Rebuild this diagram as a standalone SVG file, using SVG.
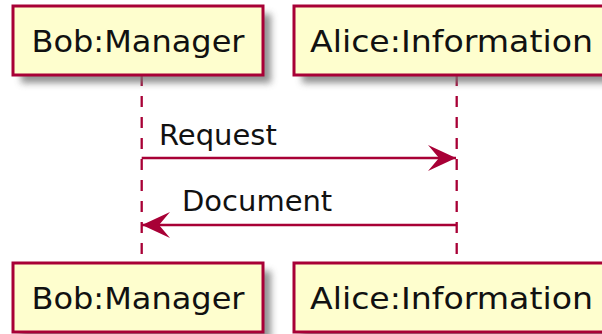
<svg xmlns="http://www.w3.org/2000/svg" width="602" height="334" viewBox="0 0 602 334">
<defs>
<filter id="sh" x="-20%" y="-20%" width="150%" height="170%">
<feGaussianBlur stdDeviation="3.5"/>
</filter>
<marker id="ah" viewBox="0 0 28 26" refX="28" refY="13" markerWidth="28" markerHeight="26" markerUnits="userSpaceOnUse" orient="auto">
<polygon points="0,0 28,13 0,26 11,13" fill="#A80036"/>
</marker>
</defs>
<style>
.life{stroke:#A80036;stroke-width:2.3;stroke-dasharray:11,10;fill:none}
.box{fill:#FEFECE;stroke:#A80036;stroke-width:3}
.shadow{fill:#777;opacity:0.8;filter:url(#sh)}
.pt{font-family:"DejaVu Sans",sans-serif;font-size:31px;fill:#111}
.mt{font-family:"DejaVu Sans",sans-serif;font-size:29px;fill:#111}
.msg{stroke:#A80036;stroke-width:2.3;fill:none;marker-end:url(#ah)}
</style>
<g id="lifelines">
<line class="life" x1="141.7" y1="75" x2="141.7" y2="263"/>
<line class="life" x1="456.7" y1="75" x2="456.7" y2="263"/>
</g>
<g id="bob-top">
<rect class="shadow" x="21" y="14" width="250" height="69"/>
<rect class="box" x="13" y="6" width="250" height="69"/>
<text class="pt" x="31.5" y="52" textLength="213" lengthAdjust="spacingAndGlyphs">Bob:Manager</text>
</g>
<g id="alice-top">
<rect class="shadow" x="302" y="14" width="318" height="69"/>
<rect class="box" x="294" y="6" width="318" height="69"/>
<text class="pt" x="310" y="52" textLength="283" lengthAdjust="spacingAndGlyphs">Alice:Information</text>
</g>
<g id="bob-bottom">
<rect class="shadow" x="21" y="271" width="250" height="69"/>
<rect class="box" x="13" y="263" width="250" height="69"/>
<text class="pt" x="31.5" y="309" textLength="213" lengthAdjust="spacingAndGlyphs">Bob:Manager</text>
</g>
<g id="alice-bottom">
<rect class="shadow" x="302" y="271" width="318" height="69"/>
<rect class="box" x="294" y="263" width="318" height="69"/>
<text class="pt" x="310" y="309" textLength="283" lengthAdjust="spacingAndGlyphs">Alice:Information</text>
</g>
<g id="connectors">
<line class="msg" x1="141.7" y1="158" x2="456" y2="158"/>
<text class="mt" x="159" y="145">Request</text>
<line class="msg" x1="456.7" y1="225" x2="142" y2="225"/>
<text class="mt" x="182" y="211">Document</text>
</g>
</svg>
